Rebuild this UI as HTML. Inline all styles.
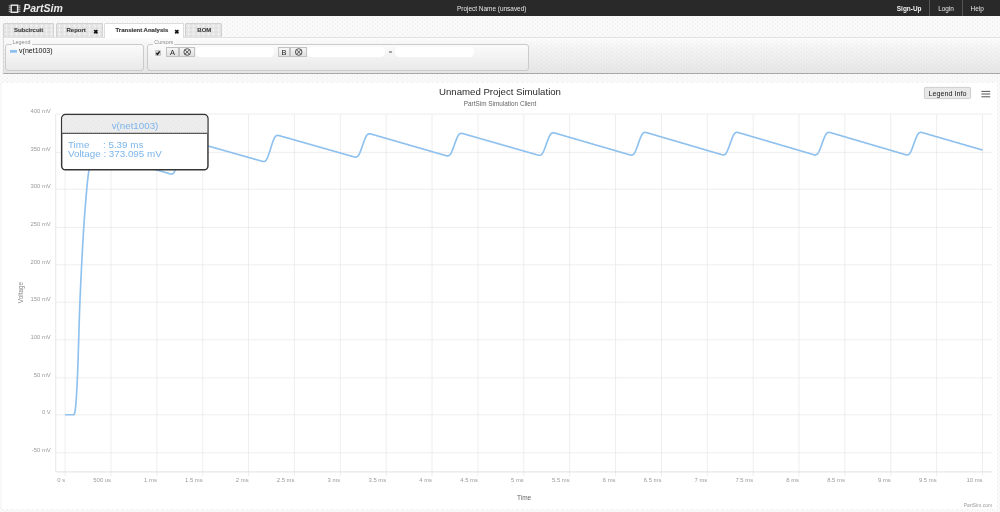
<!DOCTYPE html>
<html><head><meta charset="utf-8">
<style>
*{margin:0;padding:0;box-sizing:border-box}
html,body{width:1000px;height:512px;overflow:hidden;background:#f8f8f8;font-family:"Liberation Sans",sans-serif}
#wrap{position:absolute;left:0;top:0;width:1000px;height:512px;will-change:transform;background-color:#fafafa;background-image:radial-gradient(circle at 50% 50%, rgba(0,0,0,0.05) 0.45px, transparent 0.75px),radial-gradient(circle at 50% 50%, rgba(0,0,0,0.05) 0.45px, transparent 0.75px);background-size:5px 4px,5px 4px;background-position:0 0,2.5px 2px}
.abs{position:absolute}
#hdr{left:0;top:0;width:1000px;height:15.6px;background:#292929;color:#e6e6e6}
#hdr .t{position:absolute;font-size:6.45px;top:4.6px;white-space:nowrap}
.sep{position:absolute;top:0;width:1px;height:15.6px;background:#555}
.tab{position:absolute;top:23.2px;height:14.3px;background-color:#e6e6e6;background-image:radial-gradient(circle at 50% 50%, rgba(255,255,255,0.7) 0.45px, transparent 0.75px),radial-gradient(circle at 50% 50%, rgba(0,0,0,0.07) 0.45px, transparent 0.75px);background-size:5px 4px,5px 4px;background-position:0 0,2.5px 2px;border:0.8px solid #d2d2d2;border-bottom:none;border-radius:1.5px 1.5px 0 0;font-size:6px;font-weight:bold;color:#404040;white-space:nowrap}
.tab span.l{position:absolute;top:3.25px;-webkit-text-stroke:0.15px #404040}
.tab.act{background:#fff;color:#333;height:15.2px;border-color:#dcdcdc;z-index:2}
.x{position:absolute;font-size:6.5px;font-weight:bold;color:#111;top:4.8px}
#tool{left:3px;top:37.2px;width:997px;height:36.7px;background-image:radial-gradient(circle at 50% 50%, rgba(0,0,0,0.035) 0.45px, transparent 0.75px),radial-gradient(circle at 50% 50%, rgba(0,0,0,0.035) 0.45px, transparent 0.75px),linear-gradient(#fdfdfd,#f6f6f6 20%,#e6e6e6);background-size:5px 4px,5px 4px,100% 100%;background-position:0 0,2.5px 2px,0 0;border-top:0.7px solid #e2e2e2;border-bottom:1.1px solid #a8a8a8;border-left:0.8px solid #dadada}
.fs{position:absolute;border:0.8px solid #cbcbcb;border-radius:3px;background:linear-gradient(#fbfbfb,#e9e9e9)}
.lg{position:absolute;font-size:5.4px;color:#8c8c8c;background:#fafafa;padding:0 1px;white-space:nowrap}
.btn{position:absolute;height:9.6px;border:0.8px solid #c2c2c2;background:linear-gradient(#f6f6f6,#e0e0e0);text-align:center;color:#333}
.inp{position:absolute;height:9.2px;background:#fff;border-radius:4.5px}
#chart{left:2px;top:82.6px;width:995px;height:426.2px;background:#fff}
svg{position:absolute;left:0;top:0;overflow:visible}
</style></head><body><div id="wrap">
<div id="hdr" class="abs">
 <svg width="30" height="16" style="left:0;top:0"><g fill="none" stroke="#e8e8e8" stroke-width="1.4"><rect x="11.2" y="5.2" width="6.4" height="7.1"/></g>
 <g stroke="#d8d8d8" stroke-width="0.8"><line x1="8.7" y1="5.9" x2="10.6" y2="5.9"/><line x1="8.7" y1="7.8" x2="10.6" y2="7.8"/><line x1="8.7" y1="9.7" x2="10.6" y2="9.7"/><line x1="8.7" y1="11.6" x2="10.6" y2="11.6"/>
 <line x1="18.2" y1="5.9" x2="20.4" y2="5.9"/><line x1="18.2" y1="7.8" x2="20.4" y2="7.8"/><line x1="18.2" y1="9.7" x2="20.4" y2="9.7"/><line x1="18.2" y1="11.6" x2="20.4" y2="11.6"/></g></svg>
 <div class="t" style="left:23.2px;top:2.3px;font-size:10.5px;font-style:italic;font-weight:bold;color:#ececec">PartSim</div>
 <div class="t" style="left:457px">Project Name (unsaved)</div>
 <div class="t" style="left:896.8px;font-weight:bold;color:#f0f0f0">Sign-Up</div>
 <div class="sep" style="left:929.4px"></div>
 <div class="t" style="left:938.2px">Login</div>
 <div class="sep" style="left:962.2px"></div>
 <div class="t" style="left:970.6px">Help</div>
</div>
<div class="tab" style="left:3px;width:51px"><span class="l" style="left:9.9px">Subcircuit</span></div>
<div class="tab" style="left:56px;width:47px"><span class="l" style="left:9.5px">Report</span><svg width="6" height="6" style="left:35.9px;top:4.9px"><path d="M1.2 1.2 L4.4 4.4 M4.4 1.2 L1.2 4.4" stroke="#111" stroke-width="1.7"/></svg></div>
<div class="tab act" style="left:104px;width:79.5px"><span class="l" style="left:10.5px">Transient Analysis</span><svg width="6" height="6" style="left:69.3px;top:5.15px"><path d="M1.2 1.2 L4.4 4.4 M4.4 1.2 L1.2 4.4" stroke="#111" stroke-width="1.7"/></svg></div>
<div class="tab" style="left:185.3px;width:36.4px"><span class="l" style="left:11px">BOM</span></div>
<div id="tool" class="abs"></div>
<div class="fs" style="left:5.4px;top:43.7px;width:139px;height:27.5px"></div>
<div class="lg" style="left:11.6px;top:39.1px">Legend</div>
<div class="abs" style="left:10px;top:50px;width:7.2px;height:1.8px;background:#8ec0ef"></div>
<div class="abs" style="left:10px;top:51.8px;width:7.2px;height:1.2px;background:#a9d0f3"></div>
<div class="abs" style="left:19.1px;top:46.6px;font-size:7px;color:#111;white-space:nowrap">v(net1003)</div>
<div class="fs" style="left:147px;top:43.7px;width:381.5px;height:27.3px"></div>
<div class="lg" style="left:153.3px;top:39.1px">Cursors</div>
<div class="abs" style="left:154.7px;top:49.9px;width:6px;height:5.7px;background:#d6d6d6;border:0.6px solid #c4c4c4;border-radius:1px"></div>
<svg width="10" height="10" style="left:154.7px;top:49.9px"><path d="M1.3 3.1 L2.5 4.3 L4.7 1.4" fill="none" stroke="#1e1e1e" stroke-width="1.5"/></svg>
<div class="btn" style="left:165.8px;top:47.2px;width:13.5px"></div>
<div class="btn" style="left:179.3px;top:47.2px;width:16.2px"></div>
<div class="inp" style="left:195.6px;top:47.4px;width:78.4px"></div>
<div class="btn" style="left:277.6px;top:47.2px;width:12.8px"></div>
<div class="btn" style="left:290.4px;top:47.2px;width:16.6px"></div>
<div class="inp" style="left:307px;top:47.4px;width:78px"></div>
<div class="inp" style="left:395px;top:47.4px;width:78.6px"></div>
<svg width="1000" height="512" style="left:0;top:0;font-family:'Liberation Sans',sans-serif">
 <text x="172.55" y="54.7" text-anchor="middle" font-size="7.4" fill="#222">A</text>
 <text x="284" y="54.7" text-anchor="middle" font-size="7.4" fill="#222">B</text>
 <g fill="none" stroke="#3a3a3a" stroke-width="0.85"><circle cx="187.2" cy="52" r="3.3"/><path d="M184.9 49.7 L189.5 54.3 M189.5 49.7 L184.9 54.3"/>
 <circle cx="298.7" cy="52" r="3.3"/><path d="M296.4 49.7 L301 54.3 M301 49.7 L296.4 54.3"/></g>
 <text x="390.4" y="53.8" text-anchor="middle" font-size="6" fill="#555">=</text>
</svg>
<div id="chart" class="abs"></div>
<svg width="1000" height="512" style="font-family:'Liberation Sans',sans-serif">
 <defs><pattern id="ttdots" x="0" y="0" width="5" height="4" patternUnits="userSpaceOnUse"><rect width="5" height="4" fill="#ebebeb"/><circle cx="1" cy="1" r="0.5" fill="#f8f8f8"/><circle cx="3.5" cy="3" r="0.5" fill="#f8f8f8"/></pattern></defs>
 <g stroke="#e6e6e6" stroke-width="0.7"><line x1="55.7" y1="114.05" x2="992" y2="114.05"/><line x1="55.7" y1="152.40" x2="992" y2="152.40"/><line x1="55.7" y1="189.30" x2="992" y2="189.30"/><line x1="55.7" y1="227.40" x2="992" y2="227.40"/><line x1="55.7" y1="264.80" x2="992" y2="264.80"/><line x1="55.7" y1="302.20" x2="992" y2="302.20"/><line x1="55.7" y1="339.80" x2="992" y2="339.80"/><line x1="55.7" y1="377.85" x2="992" y2="377.85"/><line x1="55.7" y1="414.80" x2="992" y2="414.80"/><line x1="55.7" y1="452.80" x2="992" y2="452.80"/><line x1="65.10" y1="114.2" x2="65.10" y2="476.3"/><line x1="110.97" y1="114.2" x2="110.97" y2="476.3"/><line x1="156.84" y1="114.2" x2="156.84" y2="476.3"/><line x1="202.71" y1="114.2" x2="202.71" y2="476.3"/><line x1="248.58" y1="114.2" x2="248.58" y2="476.3"/><line x1="294.45" y1="114.2" x2="294.45" y2="476.3"/><line x1="340.32" y1="114.2" x2="340.32" y2="476.3"/><line x1="386.19" y1="114.2" x2="386.19" y2="476.3"/><line x1="432.06" y1="114.2" x2="432.06" y2="476.3"/><line x1="477.93" y1="114.2" x2="477.93" y2="476.3"/><line x1="523.80" y1="114.2" x2="523.80" y2="476.3"/><line x1="569.67" y1="114.2" x2="569.67" y2="476.3"/><line x1="615.54" y1="114.2" x2="615.54" y2="476.3"/><line x1="661.41" y1="114.2" x2="661.41" y2="476.3"/><line x1="707.28" y1="114.2" x2="707.28" y2="476.3"/><line x1="753.15" y1="114.2" x2="753.15" y2="476.3"/><line x1="799.02" y1="114.2" x2="799.02" y2="476.3"/><line x1="844.89" y1="114.2" x2="844.89" y2="476.3"/><line x1="890.76" y1="114.2" x2="890.76" y2="476.3"/><line x1="936.63" y1="114.2" x2="936.63" y2="476.3"/><line x1="982.50" y1="114.2" x2="982.50" y2="476.3"/></g>
 <line x1="55.7" y1="114.2" x2="55.7" y2="471.9" stroke="#e0e0e0" stroke-width="0.7"/>
 <line x1="55.7" y1="471.9" x2="992" y2="471.9" stroke="#d6d6d6" stroke-width="0.7"/>
 <g font-size="5.9" fill="#9a9a9a"><text x="50.8" y="113.05" text-anchor="end">400 mV</text><text x="50.8" y="151.40" text-anchor="end">350 mV</text><text x="50.8" y="188.30" text-anchor="end">300 mV</text><text x="50.8" y="226.40" text-anchor="end">250 mV</text><text x="50.8" y="263.80" text-anchor="end">200 mV</text><text x="50.8" y="301.20" text-anchor="end">150 mV</text><text x="50.8" y="338.80" text-anchor="end">100 mV</text><text x="50.8" y="376.85" text-anchor="end">50 mV</text><text x="50.8" y="413.80" text-anchor="end">0 V</text><text x="50.8" y="451.80" text-anchor="end">-50 mV</text></g>
 <g font-size="5.9" fill="#9a9a9a"><text x="65.10" y="482.0" text-anchor="end">0 s</text><text x="110.97" y="482.0" text-anchor="end">500 us</text><text x="156.84" y="482.0" text-anchor="end">1 ms</text><text x="202.71" y="482.0" text-anchor="end">1.5 ms</text><text x="248.58" y="482.0" text-anchor="end">2 ms</text><text x="294.45" y="482.0" text-anchor="end">2.5 ms</text><text x="340.32" y="482.0" text-anchor="end">3 ms</text><text x="386.19" y="482.0" text-anchor="end">3.5 ms</text><text x="432.06" y="482.0" text-anchor="end">4 ms</text><text x="477.93" y="482.0" text-anchor="end">4.5 ms</text><text x="523.80" y="482.0" text-anchor="end">5 ms</text><text x="569.67" y="482.0" text-anchor="end">5.5 ms</text><text x="615.54" y="482.0" text-anchor="end">6 ms</text><text x="661.41" y="482.0" text-anchor="end">6.5 ms</text><text x="707.28" y="482.0" text-anchor="end">7 ms</text><text x="753.15" y="482.0" text-anchor="end">7.5 ms</text><text x="799.02" y="482.0" text-anchor="end">8 ms</text><text x="844.89" y="482.0" text-anchor="end">8.5 ms</text><text x="890.76" y="482.0" text-anchor="end">9 ms</text><text x="936.63" y="482.0" text-anchor="end">9.5 ms</text><text x="982.50" y="482.0" text-anchor="end">10 ms</text></g>
 <text x="500" y="95.3" text-anchor="middle" font-size="9.65" fill="#2a2a2a">Unnamed Project Simulation</text>
 <text x="500" y="106" text-anchor="middle" font-size="6.4" fill="#666">PartSim Simulation Client</text>
 <text transform="translate(22.5 292.6) rotate(-90)" text-anchor="middle" font-size="6.4" fill="#858585">Voltage</text>
 <text x="524.1" y="500.1" text-anchor="middle" font-size="6.5" fill="#666">Time</text>
 <text x="992" y="506.75" text-anchor="end" font-size="4.95" fill="#999">PartSim.com</text>
 <path d="M65.00 414.70 L65.50 414.70 L66.00 414.70 L66.50 414.70 L67.00 414.70 L67.50 414.70 L68.00 414.70 L68.50 414.70 L69.00 414.70 L69.50 414.70 L70.00 414.70 L70.50 414.70 L71.00 414.70 L71.50 414.70 L72.00 414.70 L72.50 414.70 L73.00 414.70 L73.50 414.70 L74.00 414.70 L74.50 413.72 L75.00 411.25 L75.50 408.00 L76.00 402.94 L76.50 395.26 L77.00 385.95 L77.50 375.64 L78.00 362.07 L78.50 346.04 L79.00 329.23 L79.50 313.33 L80.00 300.00 L80.50 288.76 L81.00 277.99 L81.50 267.70 L82.00 257.90 L82.50 248.61 L83.00 239.82 L83.50 231.56 L84.00 223.83 L84.50 216.64 L85.00 210.00 L85.50 203.72 L86.00 197.64 L86.50 191.86 L87.00 186.44 L87.50 181.46 L88.00 177.01 L88.50 173.17 L89.00 170.00 L89.50 167.35 L90.00 164.99 L90.50 162.90 L91.00 161.05 L91.50 159.43 L92.00 158.00 L92.50 156.70 L93.00 155.48 L93.50 154.38 L94.00 153.41 L94.50 152.61 L95.00 152.00 L95.50 152.15 L96.00 152.29 L96.50 152.44 L97.00 152.85 L97.50 152.88 L98.00 152.96 L98.50 153.06 L99.00 153.18 L99.50 153.32 L100.00 153.46 L100.50 153.60 L101.00 153.74 L101.50 153.89 L102.00 154.03 L102.50 154.18 L103.00 154.32 L103.50 154.47 L104.00 154.61 L104.50 154.76 L105.00 154.90 L105.50 155.05 L106.00 155.19 L106.50 155.34 L107.00 155.48 L107.50 155.63 L108.00 155.78 L108.50 155.92 L109.00 156.07 L109.50 156.21 L110.00 156.36 L110.50 156.50 L111.00 156.65 L111.50 156.79 L112.00 156.94 L112.50 157.08 L113.00 157.23 L113.50 157.37 L114.00 157.52 L114.50 157.66 L115.00 157.81 L115.50 157.95 L116.00 158.10 L116.50 158.24 L117.00 158.39 L117.50 158.53 L118.00 158.68 L118.50 158.82 L119.00 158.97 L119.50 159.11 L120.00 159.26 L120.50 159.40 L121.00 159.55 L121.50 159.70 L122.00 159.84 L122.50 159.99 L123.00 160.13 L123.50 160.28 L124.00 160.42 L124.50 160.57 L125.00 160.71 L125.50 160.86 L126.00 161.00 L126.50 161.15 L127.00 161.29 L127.50 161.44 L128.00 161.58 L128.50 161.73 L129.00 161.87 L129.50 162.02 L130.00 162.16 L130.50 162.31 L131.00 162.45 L131.50 162.60 L132.00 162.74 L132.50 162.89 L133.00 163.03 L133.50 163.18 L134.00 163.33 L134.50 163.47 L135.00 163.62 L135.50 163.76 L136.00 163.91 L136.50 164.05 L137.00 164.20 L137.50 164.34 L138.00 164.49 L138.50 164.63 L139.00 164.78 L139.50 164.92 L140.00 165.07 L140.50 165.21 L141.00 165.36 L141.50 165.50 L142.00 165.65 L142.50 165.79 L143.00 165.94 L143.50 166.08 L144.00 166.23 L144.50 166.37 L145.00 166.52 L145.50 166.66 L146.00 166.81 L146.50 166.96 L147.00 167.10 L147.50 167.25 L148.00 167.39 L148.50 167.54 L149.00 167.68 L149.50 167.83 L150.00 167.97 L150.50 168.12 L151.00 168.26 L151.50 168.41 L152.00 168.55 L152.50 168.70 L153.00 168.84 L153.50 168.99 L154.00 169.13 L154.50 169.28 L155.00 169.42 L155.50 169.57 L156.00 169.71 L156.50 169.86 L157.00 170.00 L157.50 170.15 L158.00 170.29 L158.50 170.44 L159.00 170.58 L159.50 170.73 L160.00 170.88 L160.50 171.02 L161.00 171.17 L161.50 171.31 L162.00 171.46 L162.50 171.60 L163.00 171.75 L163.50 171.89 L164.00 172.04 L164.50 172.18 L165.00 172.33 L165.50 172.47 L166.00 172.62 L166.50 172.76 L167.00 172.91 L167.50 173.05 L168.00 173.20 L168.50 173.34 L169.00 173.48 L169.50 173.62 L170.00 173.75 L170.50 173.87 L171.00 173.96 L171.50 174.01 L172.00 173.98 L172.50 173.86 L173.00 173.60 L173.50 173.16 L174.00 172.52 L174.50 171.64 L175.00 170.53 L175.50 169.19 L176.00 167.65 L176.50 165.93 L177.00 164.07 L177.50 162.11 L178.00 160.09 L178.50 158.03 L179.00 155.96 L179.50 153.90 L180.00 151.88 L180.50 149.92 L181.00 148.06 L181.50 146.34 L182.00 144.79 L182.50 143.45 L183.00 142.34 L183.50 141.46 L184.00 140.81 L184.50 140.38 L185.00 140.11 L185.50 139.98 L186.00 139.96 L186.50 140.00 L187.00 140.09 L187.50 140.20 L188.00 140.32 L188.50 140.46 L189.00 140.60 L189.50 140.74 L190.00 140.88 L190.50 141.02 L191.00 141.16 L191.50 141.30 L192.00 141.45 L192.50 141.59 L193.00 141.73 L193.50 141.87 L194.00 142.01 L194.50 142.15 L195.00 142.29 L195.50 142.44 L196.00 142.58 L196.50 142.72 L197.00 142.86 L197.50 143.00 L198.00 143.14 L198.50 143.28 L199.00 143.42 L199.50 143.57 L200.00 143.71 L200.50 143.85 L201.00 143.99 L201.50 144.13 L202.00 144.27 L202.50 144.41 L203.00 144.56 L203.50 144.70 L204.00 144.84 L204.50 144.98 L205.00 145.12 L205.50 145.26 L206.00 145.40 L206.50 145.55 L207.00 145.69 L207.50 145.83 L208.00 145.97 L208.50 146.11 L209.00 146.25 L209.50 146.39 L210.00 146.54 L210.50 146.68 L211.00 146.82 L211.50 146.96 L212.00 147.10 L212.50 147.24 L213.00 147.38 L213.50 147.53 L214.00 147.67 L214.50 147.81 L215.00 147.95 L215.50 148.09 L216.00 148.23 L216.50 148.37 L217.00 148.52 L217.50 148.66 L218.00 148.80 L218.50 148.94 L219.00 149.08 L219.50 149.22 L220.00 149.36 L220.50 149.51 L221.00 149.65 L221.50 149.79 L222.00 149.93 L222.50 150.07 L223.00 150.21 L223.50 150.35 L224.00 150.50 L224.50 150.64 L225.00 150.78 L225.50 150.92 L226.00 151.06 L226.50 151.20 L227.00 151.34 L227.50 151.48 L228.00 151.63 L228.50 151.77 L229.00 151.91 L229.50 152.05 L230.00 152.19 L230.50 152.33 L231.00 152.47 L231.50 152.62 L232.00 152.76 L232.50 152.90 L233.00 153.04 L233.50 153.18 L234.00 153.32 L234.50 153.46 L235.00 153.61 L235.50 153.75 L236.00 153.89 L236.50 154.03 L237.00 154.17 L237.50 154.31 L238.00 154.45 L238.50 154.60 L239.00 154.74 L239.50 154.88 L240.00 155.02 L240.50 155.16 L241.00 155.30 L241.50 155.44 L242.00 155.59 L242.50 155.73 L243.00 155.87 L243.50 156.01 L244.00 156.15 L244.50 156.29 L245.00 156.43 L245.50 156.58 L246.00 156.72 L246.50 156.86 L247.00 157.00 L247.50 157.14 L248.00 157.28 L248.50 157.42 L249.00 157.57 L249.50 157.71 L250.00 157.85 L250.50 157.99 L251.00 158.13 L251.50 158.27 L252.00 158.41 L252.50 158.56 L253.00 158.70 L253.50 158.84 L254.00 158.98 L254.50 159.12 L255.00 159.26 L255.50 159.40 L256.00 159.54 L256.50 159.69 L257.00 159.83 L257.50 159.97 L258.00 160.11 L258.50 160.25 L259.00 160.39 L259.50 160.53 L260.00 160.68 L260.50 160.82 L261.00 160.95 L261.50 161.09 L262.00 161.22 L262.50 161.33 L263.00 161.42 L263.50 161.48 L264.00 161.47 L264.50 161.38 L265.00 161.17 L265.50 160.83 L266.00 160.31 L266.50 159.61 L267.00 158.73 L267.50 157.66 L268.00 156.44 L268.50 155.08 L269.00 153.63 L269.50 152.10 L270.00 150.52 L270.50 148.92 L271.00 147.32 L271.50 145.73 L272.00 144.17 L272.50 142.66 L273.00 141.25 L273.50 139.94 L274.00 138.78 L274.50 137.78 L275.00 136.97 L275.50 136.35 L276.00 135.90 L276.50 135.62 L277.00 135.46 L277.50 135.41 L278.00 135.43 L278.50 135.50 L279.00 135.60 L279.50 135.72 L280.00 135.86 L280.50 135.99 L281.00 136.13 L281.50 136.27 L282.00 136.42 L282.50 136.56 L283.00 136.70 L283.50 136.84 L284.00 136.98 L284.50 137.13 L285.00 137.27 L285.50 137.41 L286.00 137.55 L286.50 137.69 L287.00 137.84 L287.50 137.98 L288.00 138.12 L288.50 138.26 L289.00 138.40 L289.50 138.55 L290.00 138.69 L290.50 138.83 L291.00 138.97 L291.50 139.11 L292.00 139.26 L292.50 139.40 L293.00 139.54 L293.50 139.68 L294.00 139.82 L294.50 139.97 L295.00 140.11 L295.50 140.25 L296.00 140.39 L296.50 140.53 L297.00 140.68 L297.50 140.82 L298.00 140.96 L298.50 141.10 L299.00 141.24 L299.50 141.39 L300.00 141.53 L300.50 141.67 L301.00 141.81 L301.50 141.95 L302.00 142.10 L302.50 142.24 L303.00 142.38 L303.50 142.52 L304.00 142.66 L304.50 142.81 L305.00 142.95 L305.50 143.09 L306.00 143.23 L306.50 143.37 L307.00 143.52 L307.50 143.66 L308.00 143.80 L308.50 143.94 L309.00 144.08 L309.50 144.23 L310.00 144.37 L310.50 144.51 L311.00 144.65 L311.50 144.79 L312.00 144.94 L312.50 145.08 L313.00 145.22 L313.50 145.36 L314.00 145.50 L314.50 145.65 L315.00 145.79 L315.50 145.93 L316.00 146.07 L316.50 146.21 L317.00 146.36 L317.50 146.50 L318.00 146.64 L318.50 146.78 L319.00 146.92 L319.50 147.07 L320.00 147.21 L320.50 147.35 L321.00 147.49 L321.50 147.63 L322.00 147.78 L322.50 147.92 L323.00 148.06 L323.50 148.20 L324.00 148.34 L324.50 148.49 L325.00 148.63 L325.50 148.77 L326.00 148.91 L326.50 149.05 L327.00 149.20 L327.50 149.34 L328.00 149.48 L328.50 149.62 L329.00 149.76 L329.50 149.91 L330.00 150.05 L330.50 150.19 L331.00 150.33 L331.50 150.47 L332.00 150.62 L332.50 150.76 L333.00 150.90 L333.50 151.04 L334.00 151.18 L334.50 151.33 L335.00 151.47 L335.50 151.61 L336.00 151.75 L336.50 151.89 L337.00 152.04 L337.50 152.18 L338.00 152.32 L338.50 152.46 L339.00 152.60 L339.50 152.75 L340.00 152.89 L340.50 153.03 L341.00 153.17 L341.50 153.31 L342.00 153.46 L342.50 153.60 L343.00 153.74 L343.50 153.88 L344.00 154.02 L344.50 154.17 L345.00 154.31 L345.50 154.45 L346.00 154.59 L346.50 154.73 L347.00 154.88 L347.50 155.02 L348.00 155.16 L348.50 155.30 L349.00 155.44 L349.50 155.59 L350.00 155.73 L350.50 155.87 L351.00 156.01 L351.50 156.15 L352.00 156.30 L352.50 156.44 L353.00 156.58 L353.50 156.71 L354.00 156.84 L354.50 156.95 L355.00 157.05 L355.50 157.10 L356.00 157.09 L356.50 157.01 L357.00 156.81 L357.50 156.48 L358.00 155.99 L358.50 155.33 L359.00 154.51 L359.50 153.53 L360.00 152.40 L360.50 151.16 L361.00 149.84 L361.50 148.45 L362.00 147.03 L362.50 145.59 L363.00 144.14 L363.50 142.71 L364.00 141.32 L364.50 139.98 L365.00 138.72 L365.50 137.58 L366.00 136.56 L366.50 135.71 L367.00 135.02 L367.50 134.50 L368.00 134.14 L368.50 133.92 L369.00 133.81 L369.50 133.80 L370.00 133.84 L370.50 133.93 L371.00 134.04 L371.50 134.17 L372.00 134.31 L372.50 134.45 L373.00 134.59 L373.50 134.74 L374.00 134.88 L374.50 135.02 L375.00 135.17 L375.50 135.31 L376.00 135.46 L376.50 135.60 L377.00 135.75 L377.50 135.89 L378.00 136.03 L378.50 136.18 L379.00 136.32 L379.50 136.47 L380.00 136.61 L380.50 136.76 L381.00 136.90 L381.50 137.05 L382.00 137.19 L382.50 137.33 L383.00 137.48 L383.50 137.62 L384.00 137.77 L384.50 137.91 L385.00 138.06 L385.50 138.20 L386.00 138.34 L386.50 138.49 L387.00 138.63 L387.50 138.78 L388.00 138.92 L388.50 139.07 L389.00 139.21 L389.50 139.36 L390.00 139.50 L390.50 139.64 L391.00 139.79 L391.50 139.93 L392.00 140.08 L392.50 140.22 L393.00 140.37 L393.50 140.51 L394.00 140.66 L394.50 140.80 L395.00 140.94 L395.50 141.09 L396.00 141.23 L396.50 141.38 L397.00 141.52 L397.50 141.67 L398.00 141.81 L398.50 141.95 L399.00 142.10 L399.50 142.24 L400.00 142.39 L400.50 142.53 L401.00 142.68 L401.50 142.82 L402.00 142.97 L402.50 143.11 L403.00 143.25 L403.50 143.40 L404.00 143.54 L404.50 143.69 L405.00 143.83 L405.50 143.98 L406.00 144.12 L406.50 144.27 L407.00 144.41 L407.50 144.55 L408.00 144.70 L408.50 144.84 L409.00 144.99 L409.50 145.13 L410.00 145.28 L410.50 145.42 L411.00 145.57 L411.50 145.71 L412.00 145.85 L412.50 146.00 L413.00 146.14 L413.50 146.29 L414.00 146.43 L414.50 146.58 L415.00 146.72 L415.50 146.86 L416.00 147.01 L416.50 147.15 L417.00 147.30 L417.50 147.44 L418.00 147.59 L418.50 147.73 L419.00 147.88 L419.50 148.02 L420.00 148.16 L420.50 148.31 L421.00 148.45 L421.50 148.60 L422.00 148.74 L422.50 148.89 L423.00 149.03 L423.50 149.18 L424.00 149.32 L424.50 149.46 L425.00 149.61 L425.50 149.75 L426.00 149.90 L426.50 150.04 L427.00 150.19 L427.50 150.33 L428.00 150.47 L428.50 150.62 L429.00 150.76 L429.50 150.91 L430.00 151.05 L430.50 151.20 L431.00 151.34 L431.50 151.49 L432.00 151.63 L432.50 151.77 L433.00 151.92 L433.50 152.06 L434.00 152.21 L434.50 152.35 L435.00 152.50 L435.50 152.64 L436.00 152.79 L436.50 152.93 L437.00 153.07 L437.50 153.22 L438.00 153.36 L438.50 153.51 L439.00 153.65 L439.50 153.80 L440.00 153.94 L440.50 154.08 L441.00 154.23 L441.50 154.37 L442.00 154.52 L442.50 154.66 L443.00 154.81 L443.50 154.95 L444.00 155.09 L444.50 155.24 L445.00 155.38 L445.50 155.52 L446.00 155.64 L446.50 155.76 L447.00 155.85 L447.50 155.90 L448.00 155.88 L448.50 155.78 L449.00 155.58 L449.50 155.23 L450.00 154.73 L450.50 154.07 L451.00 153.24 L451.50 152.26 L452.00 151.15 L452.50 149.93 L453.00 148.64 L453.50 147.28 L454.00 145.90 L454.50 144.50 L455.00 143.11 L455.50 141.73 L456.00 140.39 L456.50 139.10 L457.00 137.91 L457.50 136.82 L458.00 135.87 L458.50 135.07 L459.00 134.44 L459.50 133.97 L460.00 133.65 L460.50 133.47 L461.00 133.39 L461.50 133.39 L462.00 133.45 L462.50 133.54 L463.00 133.66 L463.50 133.79 L464.00 133.92 L464.50 134.06 L465.00 134.20 L465.50 134.35 L466.00 134.49 L466.50 134.63 L467.00 134.78 L467.50 134.92 L468.00 135.06 L468.50 135.21 L469.00 135.35 L469.50 135.49 L470.00 135.64 L470.50 135.78 L471.00 135.92 L471.50 136.07 L472.00 136.21 L472.50 136.35 L473.00 136.50 L473.50 136.64 L474.00 136.78 L474.50 136.93 L475.00 137.07 L475.50 137.21 L476.00 137.35 L476.50 137.50 L477.00 137.64 L477.50 137.78 L478.00 137.93 L478.50 138.07 L479.00 138.21 L479.50 138.36 L480.00 138.50 L480.50 138.64 L481.00 138.79 L481.50 138.93 L482.00 139.07 L482.50 139.22 L483.00 139.36 L483.50 139.50 L484.00 139.65 L484.50 139.79 L485.00 139.93 L485.50 140.08 L486.00 140.22 L486.50 140.36 L487.00 140.51 L487.50 140.65 L488.00 140.79 L488.50 140.93 L489.00 141.08 L489.50 141.22 L490.00 141.36 L490.50 141.51 L491.00 141.65 L491.50 141.79 L492.00 141.94 L492.50 142.08 L493.00 142.22 L493.50 142.37 L494.00 142.51 L494.50 142.65 L495.00 142.80 L495.50 142.94 L496.00 143.08 L496.50 143.23 L497.00 143.37 L497.50 143.51 L498.00 143.66 L498.50 143.80 L499.00 143.94 L499.50 144.09 L500.00 144.23 L500.50 144.37 L501.00 144.51 L501.50 144.66 L502.00 144.80 L502.50 144.94 L503.00 145.09 L503.50 145.23 L504.00 145.37 L504.50 145.52 L505.00 145.66 L505.50 145.80 L506.00 145.95 L506.50 146.09 L507.00 146.23 L507.50 146.38 L508.00 146.52 L508.50 146.66 L509.00 146.81 L509.50 146.95 L510.00 147.09 L510.50 147.24 L511.00 147.38 L511.50 147.52 L512.00 147.67 L512.50 147.81 L513.00 147.95 L513.50 148.09 L514.00 148.24 L514.50 148.38 L515.00 148.52 L515.50 148.67 L516.00 148.81 L516.50 148.95 L517.00 149.10 L517.50 149.24 L518.00 149.38 L518.50 149.53 L519.00 149.67 L519.50 149.81 L520.00 149.96 L520.50 150.10 L521.00 150.24 L521.50 150.39 L522.00 150.53 L522.50 150.67 L523.00 150.82 L523.50 150.96 L524.00 151.10 L524.50 151.25 L525.00 151.39 L525.50 151.53 L526.00 151.67 L526.50 151.82 L527.00 151.96 L527.50 152.10 L528.00 152.25 L528.50 152.39 L529.00 152.53 L529.50 152.68 L530.00 152.82 L530.50 152.96 L531.00 153.11 L531.50 153.25 L532.00 153.39 L532.50 153.54 L533.00 153.68 L533.50 153.82 L534.00 153.97 L534.50 154.11 L535.00 154.25 L535.50 154.40 L536.00 154.54 L536.50 154.68 L537.00 154.82 L537.50 154.95 L538.00 155.08 L538.50 155.19 L539.00 155.27 L539.50 155.30 L540.00 155.28 L540.50 155.16 L541.00 154.92 L541.50 154.54 L542.00 154.01 L542.50 153.31 L543.00 152.45 L543.50 151.45 L544.00 150.31 L544.50 149.08 L545.00 147.77 L545.50 146.41 L546.00 145.02 L546.50 143.62 L547.00 142.23 L547.50 140.86 L548.00 139.53 L548.50 138.26 L549.00 137.08 L549.50 136.02 L550.00 135.10 L550.50 134.34 L551.00 133.74 L551.50 133.30 L552.00 133.02 L552.50 132.86 L553.00 132.80 L553.50 132.81 L554.00 132.88 L554.50 132.98 L555.00 133.10 L555.50 133.24 L556.00 133.38 L556.50 133.52 L557.00 133.66 L557.50 133.81 L558.00 133.95 L558.50 134.10 L559.00 134.25 L559.50 134.39 L560.00 134.54 L560.50 134.68 L561.00 134.83 L561.50 134.97 L562.00 135.12 L562.50 135.27 L563.00 135.41 L563.50 135.56 L564.00 135.70 L564.50 135.85 L565.00 135.99 L565.50 136.14 L566.00 136.28 L566.50 136.43 L567.00 136.58 L567.50 136.72 L568.00 136.87 L568.50 137.01 L569.00 137.16 L569.50 137.30 L570.00 137.45 L570.50 137.59 L571.00 137.74 L571.50 137.89 L572.00 138.03 L572.50 138.18 L573.00 138.32 L573.50 138.47 L574.00 138.61 L574.50 138.76 L575.00 138.91 L575.50 139.05 L576.00 139.20 L576.50 139.34 L577.00 139.49 L577.50 139.63 L578.00 139.78 L578.50 139.92 L579.00 140.07 L579.50 140.22 L580.00 140.36 L580.50 140.51 L581.00 140.65 L581.50 140.80 L582.00 140.94 L582.50 141.09 L583.00 141.23 L583.50 141.38 L584.00 141.53 L584.50 141.67 L585.00 141.82 L585.50 141.96 L586.00 142.11 L586.50 142.25 L587.00 142.40 L587.50 142.55 L588.00 142.69 L588.50 142.84 L589.00 142.98 L589.50 143.13 L590.00 143.27 L590.50 143.42 L591.00 143.56 L591.50 143.71 L592.00 143.86 L592.50 144.00 L593.00 144.15 L593.50 144.29 L594.00 144.44 L594.50 144.58 L595.00 144.73 L595.50 144.87 L596.00 145.02 L596.50 145.17 L597.00 145.31 L597.50 145.46 L598.00 145.60 L598.50 145.75 L599.00 145.89 L599.50 146.04 L600.00 146.19 L600.50 146.33 L601.00 146.48 L601.50 146.62 L602.00 146.77 L602.50 146.91 L603.00 147.06 L603.50 147.20 L604.00 147.35 L604.50 147.50 L605.00 147.64 L605.50 147.79 L606.00 147.93 L606.50 148.08 L607.00 148.22 L607.50 148.37 L608.00 148.51 L608.50 148.66 L609.00 148.81 L609.50 148.95 L610.00 149.10 L610.50 149.24 L611.00 149.39 L611.50 149.53 L612.00 149.68 L612.50 149.83 L613.00 149.97 L613.50 150.12 L614.00 150.26 L614.50 150.41 L615.00 150.55 L615.50 150.70 L616.00 150.84 L616.50 150.99 L617.00 151.14 L617.50 151.28 L618.00 151.43 L618.50 151.57 L619.00 151.72 L619.50 151.86 L620.00 152.01 L620.50 152.15 L621.00 152.30 L621.50 152.45 L622.00 152.59 L622.50 152.74 L623.00 152.88 L623.50 153.03 L624.00 153.17 L624.50 153.32 L625.00 153.47 L625.50 153.61 L626.00 153.76 L626.50 153.90 L627.00 154.05 L627.50 154.19 L628.00 154.34 L628.50 154.48 L629.00 154.62 L629.50 154.76 L630.00 154.88 L630.50 154.99 L631.00 155.07 L631.50 155.09 L632.00 155.05 L632.50 154.91 L633.00 154.65 L633.50 154.24 L634.00 153.67 L634.50 152.93 L635.00 152.03 L635.50 150.99 L636.00 149.82 L636.50 148.56 L637.00 147.23 L637.50 145.85 L638.00 144.45 L638.50 143.04 L639.00 141.63 L639.50 140.26 L640.00 138.92 L640.50 137.66 L641.00 136.50 L641.50 135.45 L642.00 134.56 L642.50 133.82 L643.00 133.25 L643.50 132.84 L644.00 132.58 L644.50 132.44 L645.00 132.40 L645.50 132.43 L646.00 132.50 L646.50 132.61 L647.00 132.74 L647.50 132.88 L648.00 133.02 L648.50 133.16 L649.00 133.31 L649.50 133.46 L650.00 133.60 L650.50 133.75 L651.00 133.90 L651.50 134.04 L652.00 134.19 L652.50 134.34 L653.00 134.48 L653.50 134.63 L654.00 134.78 L654.50 134.92 L655.00 135.07 L655.50 135.22 L656.00 135.36 L656.50 135.51 L657.00 135.66 L657.50 135.80 L658.00 135.95 L658.50 136.10 L659.00 136.24 L659.50 136.39 L660.00 136.54 L660.50 136.68 L661.00 136.83 L661.50 136.98 L662.00 137.13 L662.50 137.27 L663.00 137.42 L663.50 137.57 L664.00 137.71 L664.50 137.86 L665.00 138.01 L665.50 138.15 L666.00 138.30 L666.50 138.45 L667.00 138.59 L667.50 138.74 L668.00 138.89 L668.50 139.03 L669.00 139.18 L669.50 139.33 L670.00 139.47 L670.50 139.62 L671.00 139.77 L671.50 139.91 L672.00 140.06 L672.50 140.21 L673.00 140.35 L673.50 140.50 L674.00 140.65 L674.50 140.80 L675.00 140.94 L675.50 141.09 L676.00 141.24 L676.50 141.38 L677.00 141.53 L677.50 141.68 L678.00 141.82 L678.50 141.97 L679.00 142.12 L679.50 142.26 L680.00 142.41 L680.50 142.56 L681.00 142.70 L681.50 142.85 L682.00 143.00 L682.50 143.14 L683.00 143.29 L683.50 143.44 L684.00 143.58 L684.50 143.73 L685.00 143.88 L685.50 144.02 L686.00 144.17 L686.50 144.32 L687.00 144.47 L687.50 144.61 L688.00 144.76 L688.50 144.91 L689.00 145.05 L689.50 145.20 L690.00 145.35 L690.50 145.49 L691.00 145.64 L691.50 145.79 L692.00 145.93 L692.50 146.08 L693.00 146.23 L693.50 146.37 L694.00 146.52 L694.50 146.67 L695.00 146.81 L695.50 146.96 L696.00 147.11 L696.50 147.25 L697.00 147.40 L697.50 147.55 L698.00 147.69 L698.50 147.84 L699.00 147.99 L699.50 148.14 L700.00 148.28 L700.50 148.43 L701.00 148.58 L701.50 148.72 L702.00 148.87 L702.50 149.02 L703.00 149.16 L703.50 149.31 L704.00 149.46 L704.50 149.60 L705.00 149.75 L705.50 149.90 L706.00 150.04 L706.50 150.19 L707.00 150.34 L707.50 150.48 L708.00 150.63 L708.50 150.78 L709.00 150.92 L709.50 151.07 L710.00 151.22 L710.50 151.36 L711.00 151.51 L711.50 151.66 L712.00 151.81 L712.50 151.95 L713.00 152.10 L713.50 152.25 L714.00 152.39 L714.50 152.54 L715.00 152.69 L715.50 152.83 L716.00 152.98 L716.50 153.13 L717.00 153.27 L717.50 153.42 L718.00 153.57 L718.50 153.71 L719.00 153.86 L719.50 154.01 L720.00 154.15 L720.50 154.30 L721.00 154.44 L721.50 154.57 L722.00 154.70 L722.50 154.80 L723.00 154.87 L723.50 154.88 L724.00 154.83 L724.50 154.67 L725.00 154.38 L725.50 153.94 L726.00 153.35 L726.50 152.58 L727.00 151.66 L727.50 150.60 L728.00 149.43 L728.50 148.16 L729.00 146.83 L729.50 145.46 L730.00 144.06 L730.50 142.66 L731.00 141.28 L731.50 139.92 L732.00 138.61 L732.50 137.38 L733.00 136.24 L733.50 135.24 L734.00 134.38 L734.50 133.68 L735.00 133.15 L735.50 132.78 L736.00 132.54 L736.50 132.43 L737.00 132.40 L737.50 132.44 L738.00 132.52 L738.50 132.64 L739.00 132.77 L739.50 132.90 L740.00 133.05 L740.50 133.19 L741.00 133.34 L741.50 133.48 L742.00 133.63 L742.50 133.78 L743.00 133.92 L743.50 134.07 L744.00 134.22 L744.50 134.37 L745.00 134.51 L745.50 134.66 L746.00 134.81 L746.50 134.95 L747.00 135.10 L747.50 135.25 L748.00 135.39 L748.50 135.54 L749.00 135.69 L749.50 135.83 L750.00 135.98 L750.50 136.13 L751.00 136.27 L751.50 136.42 L752.00 136.57 L752.50 136.71 L753.00 136.86 L753.50 137.01 L754.00 137.15 L754.50 137.30 L755.00 137.45 L755.50 137.59 L756.00 137.74 L756.50 137.89 L757.00 138.04 L757.50 138.18 L758.00 138.33 L758.50 138.48 L759.00 138.62 L759.50 138.77 L760.00 138.92 L760.50 139.06 L761.00 139.21 L761.50 139.36 L762.00 139.50 L762.50 139.65 L763.00 139.80 L763.50 139.94 L764.00 140.09 L764.50 140.24 L765.00 140.38 L765.50 140.53 L766.00 140.68 L766.50 140.82 L767.00 140.97 L767.50 141.12 L768.00 141.26 L768.50 141.41 L769.00 141.56 L769.50 141.71 L770.00 141.85 L770.50 142.00 L771.00 142.15 L771.50 142.29 L772.00 142.44 L772.50 142.59 L773.00 142.73 L773.50 142.88 L774.00 143.03 L774.50 143.17 L775.00 143.32 L775.50 143.47 L776.00 143.61 L776.50 143.76 L777.00 143.91 L777.50 144.05 L778.00 144.20 L778.50 144.35 L779.00 144.49 L779.50 144.64 L780.00 144.79 L780.50 144.93 L781.00 145.08 L781.50 145.23 L782.00 145.38 L782.50 145.52 L783.00 145.67 L783.50 145.82 L784.00 145.96 L784.50 146.11 L785.00 146.26 L785.50 146.40 L786.00 146.55 L786.50 146.70 L787.00 146.84 L787.50 146.99 L788.00 147.14 L788.50 147.28 L789.00 147.43 L789.50 147.58 L790.00 147.72 L790.50 147.87 L791.00 148.02 L791.50 148.16 L792.00 148.31 L792.50 148.46 L793.00 148.60 L793.50 148.75 L794.00 148.90 L794.50 149.05 L795.00 149.19 L795.50 149.34 L796.00 149.49 L796.50 149.63 L797.00 149.78 L797.50 149.93 L798.00 150.07 L798.50 150.22 L799.00 150.37 L799.50 150.51 L800.00 150.66 L800.50 150.81 L801.00 150.95 L801.50 151.10 L802.00 151.25 L802.50 151.39 L803.00 151.54 L803.50 151.69 L804.00 151.83 L804.50 151.98 L805.00 152.13 L805.50 152.27 L806.00 152.42 L806.50 152.57 L807.00 152.72 L807.50 152.86 L808.00 153.01 L808.50 153.16 L809.00 153.30 L809.50 153.45 L810.00 153.60 L810.50 153.74 L811.00 153.89 L811.50 154.04 L812.00 154.18 L812.50 154.33 L813.00 154.47 L813.50 154.60 L814.00 154.72 L814.50 154.82 L815.00 154.88 L815.50 154.88 L816.00 154.80 L816.50 154.62 L817.00 154.31 L817.50 153.84 L818.00 153.21 L818.50 152.41 L819.00 151.46 L819.50 150.38 L820.00 149.18 L820.50 147.90 L821.00 146.56 L821.50 145.18 L822.00 143.78 L822.50 142.38 L823.00 141.00 L823.50 139.65 L824.00 138.36 L824.50 137.14 L825.00 136.03 L825.50 135.05 L826.00 134.22 L826.50 133.56 L827.00 133.06 L827.50 132.72 L828.00 132.51 L828.50 132.41 L829.00 132.40 L829.50 132.45 L830.00 132.54 L830.50 132.66 L831.00 132.79 L831.50 132.93 L832.00 133.08 L832.50 133.22 L833.00 133.37 L833.50 133.51 L834.00 133.66 L834.50 133.81 L835.00 133.95 L835.50 134.10 L836.00 134.25 L836.50 134.39 L837.00 134.54 L837.50 134.69 L838.00 134.84 L838.50 134.98 L839.00 135.13 L839.50 135.28 L840.00 135.42 L840.50 135.57 L841.00 135.72 L841.50 135.86 L842.00 136.01 L842.50 136.16 L843.00 136.30 L843.50 136.45 L844.00 136.60 L844.50 136.74 L845.00 136.89 L845.50 137.04 L846.00 137.18 L846.50 137.33 L847.00 137.48 L847.50 137.62 L848.00 137.77 L848.50 137.92 L849.00 138.06 L849.50 138.21 L850.00 138.36 L850.50 138.51 L851.00 138.65 L851.50 138.80 L852.00 138.95 L852.50 139.09 L853.00 139.24 L853.50 139.39 L854.00 139.53 L854.50 139.68 L855.00 139.83 L855.50 139.97 L856.00 140.12 L856.50 140.27 L857.00 140.41 L857.50 140.56 L858.00 140.71 L858.50 140.85 L859.00 141.00 L859.50 141.15 L860.00 141.29 L860.50 141.44 L861.00 141.59 L861.50 141.73 L862.00 141.88 L862.50 142.03 L863.00 142.18 L863.50 142.32 L864.00 142.47 L864.50 142.62 L865.00 142.76 L865.50 142.91 L866.00 143.06 L866.50 143.20 L867.00 143.35 L867.50 143.50 L868.00 143.64 L868.50 143.79 L869.00 143.94 L869.50 144.08 L870.00 144.23 L870.50 144.38 L871.00 144.52 L871.50 144.67 L872.00 144.82 L872.50 144.96 L873.00 145.11 L873.50 145.26 L874.00 145.40 L874.50 145.55 L875.00 145.70 L875.50 145.84 L876.00 145.99 L876.50 146.14 L877.00 146.29 L877.50 146.43 L878.00 146.58 L878.50 146.73 L879.00 146.87 L879.50 147.02 L880.00 147.17 L880.50 147.31 L881.00 147.46 L881.50 147.61 L882.00 147.75 L882.50 147.90 L883.00 148.05 L883.50 148.19 L884.00 148.34 L884.50 148.49 L885.00 148.63 L885.50 148.78 L886.00 148.93 L886.50 149.07 L887.00 149.22 L887.50 149.37 L888.00 149.51 L888.50 149.66 L889.00 149.81 L889.50 149.96 L890.00 150.10 L890.50 150.25 L891.00 150.40 L891.50 150.54 L892.00 150.69 L892.50 150.84 L893.00 150.98 L893.50 151.13 L894.00 151.28 L894.50 151.42 L895.00 151.57 L895.50 151.72 L896.00 151.86 L896.50 152.01 L897.00 152.16 L897.50 152.30 L898.00 152.45 L898.50 152.60 L899.00 152.74 L899.50 152.89 L900.00 153.04 L900.50 153.18 L901.00 153.33 L901.50 153.48 L902.00 153.63 L902.50 153.77 L903.00 153.92 L903.50 154.06 L904.00 154.21 L904.50 154.35 L905.00 154.49 L905.50 154.62 L906.00 154.74 L906.50 154.83 L907.00 154.88 L907.50 154.87 L908.00 154.78 L908.50 154.57 L909.00 154.22 L909.50 153.73 L910.00 153.06 L910.50 152.24 L911.00 151.26 L911.50 150.15 L912.00 148.93 L912.50 147.64 L913.00 146.28 L913.50 144.90 L914.00 143.50 L914.50 142.11 L915.00 140.73 L915.50 139.39 L916.00 138.10 L916.50 136.91 L917.00 135.82 L917.50 134.87 L918.00 134.07 L918.50 133.44 L919.00 132.98 L919.50 132.66 L920.00 132.48 L920.50 132.40 L921.00 132.40 L921.50 132.46 L922.00 132.55 L922.50 132.67 L923.00 132.80 L923.50 132.94 L924.00 133.08 L924.50 133.23 L925.00 133.37 L925.50 133.52 L926.00 133.66 L926.50 133.81 L927.00 133.95 L927.50 134.10 L928.00 134.24 L928.50 134.39 L929.00 134.53 L929.50 134.68 L930.00 134.82 L930.50 134.97 L931.00 135.11 L931.50 135.26 L932.00 135.40 L932.50 135.55 L933.00 135.69 L933.50 135.84 L934.00 135.98 L934.50 136.13 L935.00 136.27 L935.50 136.42 L936.00 136.56 L936.50 136.71 L937.00 136.85 L937.50 137.00 L938.00 137.14 L938.50 137.29 L939.00 137.43 L939.50 137.58 L940.00 137.72 L940.50 137.87 L941.00 138.01 L941.50 138.16 L942.00 138.30 L942.50 138.45 L943.00 138.59 L943.50 138.74 L944.00 138.88 L944.50 139.03 L945.00 139.17 L945.50 139.32 L946.00 139.46 L946.50 139.61 L947.00 139.75 L947.50 139.90 L948.00 140.04 L948.50 140.19 L949.00 140.33 L949.50 140.48 L950.00 140.62 L950.50 140.77 L951.00 140.91 L951.50 141.06 L952.00 141.20 L952.50 141.35 L953.00 141.49 L953.50 141.64 L954.00 141.78 L954.50 141.93 L955.00 142.07 L955.50 142.22 L956.00 142.36 L956.50 142.51 L957.00 142.65 L957.50 142.80 L958.00 142.94 L958.50 143.09 L959.00 143.23 L959.50 143.38 L960.00 143.52 L960.50 143.67 L961.00 143.81 L961.50 143.96 L962.00 144.10 L962.50 144.25 L963.00 144.39 L963.50 144.54 L964.00 144.68 L964.50 144.83 L965.00 144.97 L965.50 145.12 L966.00 145.26 L966.50 145.41 L967.00 145.55 L967.50 145.70 L968.00 145.84 L968.50 145.99 L969.00 146.13 L969.50 146.28 L970.00 146.42 L970.50 146.57 L971.00 146.71 L971.50 146.86 L972.00 147.00 L972.50 147.15 L973.00 147.29 L973.50 147.44 L974.00 147.58 L974.50 147.73 L975.00 147.87 L975.50 148.02 L976.00 148.16 L976.50 148.31 L977.00 148.45 L977.50 148.60 L978.00 148.74 L978.50 148.89 L979.00 149.03 L979.50 149.18 L980.00 149.32 L980.50 149.46 L981.00 149.61 L981.50 149.75 L982.00 149.88 L982.50 150.02" fill="none" stroke="#8fc1ef" stroke-width="1.65" stroke-linejoin="round"/>
 <rect x="924.4" y="87.4" width="46.2" height="11.2" rx="1" fill="#e8e8e8" stroke="#b5b5b5" stroke-width="0.6"/>
 <text x="947.6" y="95.5" text-anchor="middle" font-size="7.2" fill="#222">Legend Info</text>
 <g stroke="#555" stroke-width="1"><line x1="981.4" y1="91.4" x2="990.2" y2="91.4"/><line x1="981.4" y1="94" x2="990.2" y2="94"/><line x1="981.4" y1="96.8" x2="990.2" y2="96.8"/></g>
 <rect x="61.65" y="114.55" width="146.3" height="55.2" rx="3.8" fill="#fff" stroke="#353535" stroke-width="1.45"/>
 <path d="M62.3 133.4 V118.6 A4 4 0 0 1 66.3 115.2 H203.3 A4 4 0 0 1 207.3 118.6 V133.4 Z" fill="url(#ttdots)"/>
 <line x1="62.3" y1="133.4" x2="207.3" y2="133.4" stroke="#262626" stroke-width="1.3" stroke-dasharray="1.5 0.5"/>
 <text x="135" y="128.5" text-anchor="middle" font-size="9.75" fill="#7cb5ec">v(net1003)</text>
 <text x="68" y="147.9" font-size="9.8" fill="#7cb5ec">Time</text>
 <text x="103" y="147.9" font-size="9.8" fill="#7cb5ec">: 5.39 ms</text>
 <text x="68" y="156.9" font-size="9.8" fill="#7cb5ec">Voltage : 373.095 mV</text>
</svg>
</div></body></html>
